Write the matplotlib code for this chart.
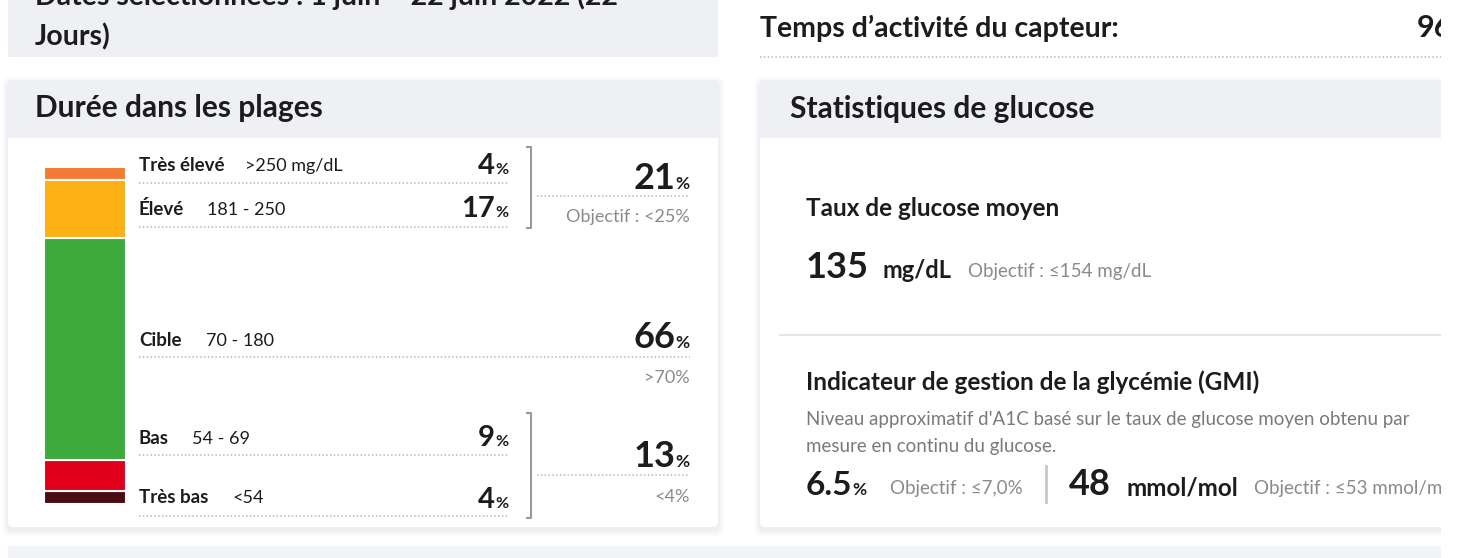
import matplotlib.pyplot as plt
from matplotlib.patches import Rectangle, FancyBboxPatch

# data
range_names = ["Très élevé", "Élevé", "Cible", "Bas", "Très bas"]
range_limits = [">250 mg/dL", "181 - 250", "70 - 180", "54 - 69", "<54"]
range_pcts = [4, 17, 66, 9, 4]
range_colors = ["#F47B35", "#FBB015", "#3DAA3C", "#E0001B", "#4B0D12"]

high_total = 21
low_total = 13
goal_high = "Objectif : <25%"
goal_target = ">70%"
goal_low = "<4%"

mean_glucose = 135
mean_goal = "Objectif : \u2264154 mg/dL"
gmi_pct = "6.5"
gmi_goal = "Objectif : \u22647,0%"
gmi_mmol = 48
gmi_mmol_goal = "Objectif : \u226453 mmol/mol"

FONT = ["Lato", "DejaVu Sans"]
INK = "#1c1c1c"
GREY = "#8a8a8a"
BAND = "#EEF0F4"

W, H = 1459, 558
fig = plt.figure(figsize=(W / 100, H / 100), dpi=100)
fig.patch.set_facecolor("white")
ax = fig.add_axes([0, 0, 1, 1])
ax.set_xlim(0, W)
ax.set_ylim(H, 0)
ax.axis("off")
renderer = fig.canvas.get_renderer()


def put(x, y, s, size, weight="normal", color=INK, ha="left", va="baseline"):
    return ax.text(x, y, s, fontsize=size, fontweight=weight, color=color,
                   ha=ha, va=va, family=FONT, zorder=5)


def width(t):
    return t.get_window_extent(renderer).width


def num_pct(xr, y, num, big, small):
    t = put(xr, y, "%", small, "bold", ha="right")
    put(xr - width(t), y, num, big, "bold", ha="right")


def dots(x0, x1, y):
    ax.plot([x0, x1], [y, y], color="#b8b8b8", lw=1.1, ls=(0, (1, 1.5)), zorder=3)


# top strip (first line of the date range is cut by the top edge, as in the page)
ax.add_patch(Rectangle((8, -5), 710, 62, facecolor=BAND, edgecolor="none", zorder=1))
put(35, 5, "Dates sélectionnées : 1 juin – 22 juin 2022 (22", 20.5, "bold")
put(35, 45, "Jours)", 20.5, "bold")
put(760, 37, "Temps d’activité du capteur:", 20.5, "bold")
put(1417, 37, "96", 22, "bold")
dots(760, 1441, 57)

# cards with soft shadow
for x0, x1 in [(8, 718), (760, 1460)]:
    for k, a in [(6, 0.025), (4, 0.035), (2, 0.05)]:
        ax.add_patch(FancyBboxPatch((x0 - k, 80 - k + 3), x1 - x0 + 2 * k, 447 + 2 * k,
                                    boxstyle="round,pad=0,rounding_size=8",
                                    facecolor="#6a7080", edgecolor="none", alpha=a, zorder=0.5))
    ax.add_patch(FancyBboxPatch((x0, 80), x1 - x0, 447, boxstyle="round,pad=0,rounding_size=6",
                                facecolor="white", edgecolor="none", zorder=1))
    ax.add_patch(Rectangle((x0, 80), x1 - x0, 58, facecolor=BAND, edgecolor="none", zorder=1.5))

put(35, 117, "Durée dans les plages", 21.5, "bold")
put(790, 118, "Statistiques de glucose", 21.5, "bold")

# stacked bar from the range percentages
axb = fig.add_axes([44 / W, 1 - 504 / H, (126 - 44) / W, (504 - 167) / H])
axb.set_xlim(-0.5, 0.5)
axb.set_ylim(0, 100)
axb.axis("off")
bottom = 0
for pct, col in zip(range_pcts[::-1], range_colors[::-1]):
    axb.bar(0, pct, width=1, bottom=bottom, color=col, edgecolor="white", linewidth=1.5)
    bottom += pct

# range rows
rows = [(171, 174, 183), (215, 217, 227), (346, 348, 357), (444, 446, 455), (503, 508, 516)]
label_x = [245, 207, 206, 192, 232]
for i, (name, lim, pct) in enumerate(zip(range_names, range_limits, range_pcts)):
    yb, yn, yd = rows[i]
    put(139, yb, name, 13.5, "bold")
    put(label_x[i], yb, lim, 13)
    if name == "Cible":
        num_pct(690, yn, str(pct), 26, 12.5)
        dots(139, 690, yd)
    else:
        num_pct(508, yn, str(pct), 21, 11.5)
        dots(139, 508, yd)

# brackets
for y0, y1 in [(147, 228), (413, 518)]:
    ax.plot([527, 531, 531, 527], [y0, y0, y1, y1], color="#9a9a9a", lw=1.5, zorder=3)

num_pct(690, 189, str(high_total), 26, 12.5)
dots(537, 690, 196)
put(690, 222, goal_high, 13, color=GREY, ha="right")
put(690, 383, goal_target, 13, color=GREY, ha="right")
num_pct(690, 467, str(low_total), 26, 12.5)
dots(537, 690, 475)
put(690, 502, goal_low, 13, color=GREY, ha="right")

# glucose statistics
put(806, 216, "Taux de glucose moyen", 17.5, "bold")
put(806, 278, str(mean_glucose), 26, "bold")
put(882, 278, "mg/dL", 17, "bold")
put(968, 277, mean_goal, 13.5, color=GREY)
ax.plot([780, 1441], [335, 335], color="#e4e6ea", lw=1.5, zorder=3)

put(806, 390, "Indicateur de gestion de la glycémie (GMI)", 17.5, "bold")
put(806, 425, "Niveau approximatif d'A1C basé sur le taux de glucose moyen obtenu par",
    13.5, color="#7a7a7a")
put(806, 452, "mesure en continu du glucose.", 13.5, color="#7a7a7a")
t = put(806, 495, gmi_pct, 24, "bold")
put(806 + width(t), 495, "%", 12.5, "bold")
put(890, 494, gmi_goal, 13.5, color=GREY)
ax.plot([1046, 1046], [466, 502], color="#c8c8c8", lw=2, zorder=3)
put(1069, 495, str(gmi_mmol), 26, "bold")
put(1127, 495, "mmol/mol", 17.5, "bold")
put(1254, 494, gmi_mmol_goal, 13.5, color=GREY)

# next card top and right crop
ax.add_patch(Rectangle((8, 546), 1433, 20, facecolor="#F2F3F6", edgecolor="none", zorder=1))
ax.add_patch(Rectangle((1441, 0), 30, H, facecolor="white", edgecolor="none", zorder=10))

fig.savefig("out.png", dpi=100)
